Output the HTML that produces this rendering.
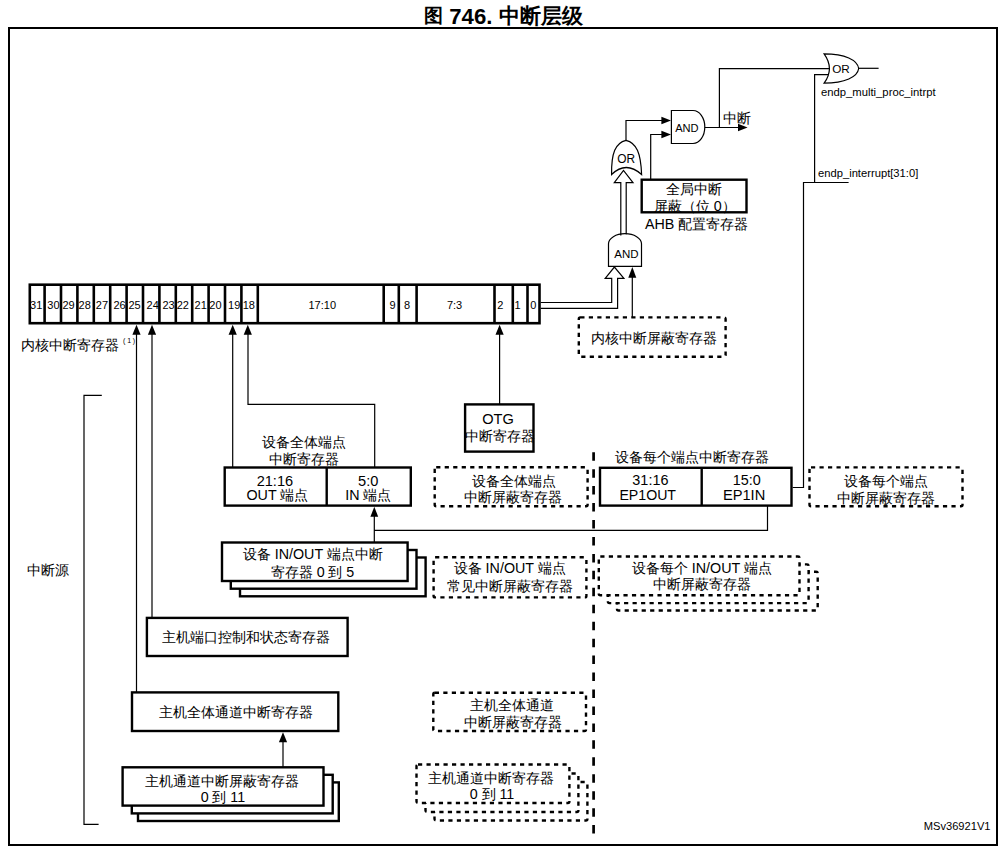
<!DOCTYPE html>
<html><head><meta charset="utf-8"><title>中断层级</title>
<style>
html,body{margin:0;padding:0;background:#fff;}
body{width:1008px;height:850px;overflow:hidden;font-family:"Liberation Sans", sans-serif;}
svg{display:block;}
</style></head>
<body>
<svg width="1008" height="850" viewBox="0 0 1008 850">
<rect x="0" y="0" width="1008" height="850" fill="#fff"/>
<rect x="9.00" y="28.00" width="988.00" height="817.00" fill="none" stroke="#000" stroke-width="2" />
<text id="t0" x="433.25" y="22.30" font-size="19.34" text-anchor="middle" font-weight="bold" font-family='"Liberation Sans", sans-serif' >图</text>
<text id="t1" x="470.80" y="24.20" font-size="22.18" text-anchor="middle" font-weight="bold" font-family='"Liberation Sans", sans-serif' >746.</text>
<text id="t2" x="541.00" y="23.00" font-size="20.96" text-anchor="middle" font-weight="bold" font-family='"Liberation Sans", sans-serif' >中断层级</text>
<rect x="29.80" y="284.70" width="509.70" height="38.50" fill="#fff" stroke="#000" stroke-width="2.6" />
<line x1="44.6" y1="284.7" x2="44.6" y2="323.2" stroke="#000" stroke-width="2.6"/>
<line x1="61.0" y1="284.7" x2="61.0" y2="323.2" stroke="#000" stroke-width="2.6"/>
<line x1="77.4" y1="284.7" x2="77.4" y2="323.2" stroke="#000" stroke-width="2.6"/>
<line x1="93.8" y1="284.7" x2="93.8" y2="323.2" stroke="#000" stroke-width="2.6"/>
<line x1="110.2" y1="284.7" x2="110.2" y2="323.2" stroke="#000" stroke-width="2.6"/>
<line x1="126.6" y1="284.7" x2="126.6" y2="323.2" stroke="#000" stroke-width="2.6"/>
<line x1="143.0" y1="284.7" x2="143.0" y2="323.2" stroke="#000" stroke-width="2.6"/>
<line x1="159.4" y1="284.7" x2="159.4" y2="323.2" stroke="#000" stroke-width="2.6"/>
<line x1="175.8" y1="284.7" x2="175.8" y2="323.2" stroke="#000" stroke-width="2.6"/>
<line x1="192.2" y1="284.7" x2="192.2" y2="323.2" stroke="#000" stroke-width="2.6"/>
<line x1="208.6" y1="284.7" x2="208.6" y2="323.2" stroke="#000" stroke-width="2.6"/>
<line x1="225.0" y1="284.7" x2="225.0" y2="323.2" stroke="#000" stroke-width="2.6"/>
<line x1="241.4" y1="284.7" x2="241.4" y2="323.2" stroke="#000" stroke-width="2.6"/>
<line x1="257.8" y1="284.7" x2="257.8" y2="323.2" stroke="#000" stroke-width="2.6"/>
<line x1="383.7" y1="284.7" x2="383.7" y2="323.2" stroke="#000" stroke-width="2.6"/>
<line x1="398.8" y1="284.7" x2="398.8" y2="323.2" stroke="#000" stroke-width="2.6"/>
<line x1="416.6" y1="284.7" x2="416.6" y2="323.2" stroke="#000" stroke-width="2.6"/>
<line x1="494.5" y1="284.7" x2="494.5" y2="323.2" stroke="#000" stroke-width="2.6"/>
<line x1="512.8" y1="284.7" x2="512.8" y2="323.2" stroke="#000" stroke-width="2.6"/>
<line x1="527.5" y1="284.7" x2="527.5" y2="323.2" stroke="#000" stroke-width="2.6"/>
<text id="t3" x="36.15" y="308.50" font-size="11.00" text-anchor="middle" font-weight="normal" font-family='"Liberation Sans", sans-serif' >31</text>
<text id="t4" x="53.45" y="308.50" font-size="11.00" text-anchor="middle" font-weight="normal" font-family='"Liberation Sans", sans-serif' >30</text>
<text id="t5" x="68.60" y="308.50" font-size="11.00" text-anchor="middle" font-weight="normal" font-family='"Liberation Sans", sans-serif' >29</text>
<text id="t6" x="84.65" y="308.50" font-size="11.00" text-anchor="middle" font-weight="normal" font-family='"Liberation Sans", sans-serif' >28</text>
<text id="t7" x="101.90" y="308.50" font-size="11.00" text-anchor="middle" font-weight="normal" font-family='"Liberation Sans", sans-serif' >27</text>
<text id="t8" x="119.60" y="308.50" font-size="11.00" text-anchor="middle" font-weight="normal" font-family='"Liberation Sans", sans-serif' >26</text>
<text id="t9" x="134.55" y="308.50" font-size="11.00" text-anchor="middle" font-weight="normal" font-family='"Liberation Sans", sans-serif' >25</text>
<text id="t10" x="152.70" y="308.50" font-size="11.00" text-anchor="middle" font-weight="normal" font-family='"Liberation Sans", sans-serif' >24</text>
<text id="t11" x="168.55" y="308.50" font-size="11.00" text-anchor="middle" font-weight="normal" font-family='"Liberation Sans", sans-serif' >23</text>
<text id="t12" x="182.88" y="308.50" font-size="11.00" text-anchor="middle" font-weight="normal" font-family='"Liberation Sans", sans-serif' >22</text>
<text id="t13" x="200.65" y="308.50" font-size="11.00" text-anchor="middle" font-weight="normal" font-family='"Liberation Sans", sans-serif' >21</text>
<text id="t14" x="215.45" y="308.50" font-size="11.00" text-anchor="middle" font-weight="normal" font-family='"Liberation Sans", sans-serif' >20</text>
<text id="t15" x="234.15" y="308.50" font-size="11.00" text-anchor="middle" font-weight="normal" font-family='"Liberation Sans", sans-serif' >19</text>
<text id="t16" x="248.80" y="308.50" font-size="11.00" text-anchor="middle" font-weight="normal" font-family='"Liberation Sans", sans-serif' >18</text>
<text id="t17" x="322.25" y="308.50" font-size="11.00" text-anchor="middle" font-weight="normal" font-family='"Liberation Sans", sans-serif' >17:10</text>
<text id="t18" x="392.45" y="308.50" font-size="11.00" text-anchor="middle" font-weight="normal" font-family='"Liberation Sans", sans-serif' >9</text>
<text id="t19" x="407.05" y="308.50" font-size="11.00" text-anchor="middle" font-weight="normal" font-family='"Liberation Sans", sans-serif' >8</text>
<text id="t20" x="454.60" y="308.50" font-size="11.00" text-anchor="middle" font-weight="normal" font-family='"Liberation Sans", sans-serif' >7:3</text>
<text id="t21" x="500.25" y="308.50" font-size="11.00" text-anchor="middle" font-weight="normal" font-family='"Liberation Sans", sans-serif' >2</text>
<text id="t22" x="517.60" y="308.50" font-size="11.00" text-anchor="middle" font-weight="normal" font-family='"Liberation Sans", sans-serif' >1</text>
<text id="t23" x="533.25" y="308.50" font-size="11.00" text-anchor="middle" font-weight="normal" font-family='"Liberation Sans", sans-serif' >0</text>
<text id="t24" x="70.10" y="350.40" font-size="13.70" text-anchor="middle" font-weight="normal" font-family='"Liberation Sans", sans-serif' >内核中断寄存器</text>
<text id="t25" x="123.00" y="343.45" font-size="7.00" text-anchor="start" font-weight="normal" font-family='"Liberation Sans", sans-serif' letter-spacing="1.8">(1)</text>
<path d="M101.8 395.3 H84 V824.3 H98.6" fill="none" stroke="#000" stroke-width="1.2" />
<text id="t26" x="47.85" y="575.20" font-size="13.70" text-anchor="middle" font-weight="normal" font-family='"Liberation Sans", sans-serif' >中断源</text>
<line x1="136.5" y1="329.7" x2="136.5" y2="692.4" stroke="#000" stroke-width="1.2"/>
<path d="M136.50 324.70 L132.40 334.70 L140.60 334.70 Z" fill="#000"/>
<line x1="152" y1="329.7" x2="152" y2="618" stroke="#000" stroke-width="1.2"/>
<path d="M152.00 324.70 L147.90 334.70 L156.10 334.70 Z" fill="#000"/>
<line x1="232.7" y1="329.7" x2="232.7" y2="467.5" stroke="#000" stroke-width="1.2"/>
<path d="M232.70 324.70 L228.60 334.70 L236.80 334.70 Z" fill="#000"/>
<path d="M248 329.7 V404.4 H374.7 V467.5" fill="none" stroke="#000" stroke-width="1.2" />
<path d="M247.80 324.70 L243.70 334.70 L251.90 334.70 Z" fill="#000"/>
<line x1="499.6" y1="329.7" x2="499.6" y2="404.4" stroke="#000" stroke-width="1.2"/>
<path d="M499.60 324.70 L495.50 334.70 L503.70 334.70 Z" fill="#000"/>
<rect x="146.90" y="617.90" width="200.70" height="38.10" fill="#fff" stroke="#000" stroke-width="2.4" />
<text id="t27" x="245.80" y="642.00" font-size="13.70" text-anchor="middle" font-weight="normal" font-family='"Liberation Sans", sans-serif' >主机端口控制和状态寄存器</text>
<rect x="132.00" y="692.40" width="206.30" height="38.60" fill="#fff" stroke="#000" stroke-width="2.4" />
<text id="t28" x="235.55" y="717.00" font-size="13.70" text-anchor="middle" font-weight="normal" font-family='"Liberation Sans", sans-serif' >主机全体通道中断寄存器</text>
<line x1="283" y1="740" x2="283" y2="767.3" stroke="#000" stroke-width="1.2"/>
<path d="M283.00 732.20 L278.90 742.20 L287.10 742.20 Z" fill="#000"/>
<rect x="138.00" y="782.40" width="200.80" height="38.60" fill="#fff" stroke="#000" stroke-width="2.4" />
<rect x="131.80" y="774.80" width="200.90" height="38.60" fill="#fff" stroke="#000" stroke-width="2.4" />
<rect x="122.60" y="767.30" width="200.90" height="38.30" fill="#fff" stroke="#000" stroke-width="2.4" />
<text id="t29" x="222.20" y="786.10" font-size="13.70" text-anchor="middle" font-weight="normal" font-family='"Liberation Sans", sans-serif' >主机通道中断屏蔽寄存器</text>
<text id="t30" x="222.95" y="801.90" font-size="13.70" text-anchor="middle" font-weight="normal" font-family='"Liberation Sans", sans-serif' ><tspan font-size="14.30">0</tspan> 到 <tspan font-size="14.30">11</tspan></text>
<text id="t31" x="303.50" y="446.90" font-size="13.70" text-anchor="middle" font-weight="normal" font-family='"Liberation Sans", sans-serif' >设备全体端点</text>
<text id="t32" x="303.65" y="463.60" font-size="13.70" text-anchor="middle" font-weight="normal" font-family='"Liberation Sans", sans-serif' >中断寄存器</text>
<rect x="224.70" y="467.50" width="186.10" height="38.10" fill="#fff" stroke="#000" stroke-width="2.4" />
<line x1="326.7" y1="467.5" x2="326.7" y2="505.6" stroke="#000" stroke-width="2.4"/>
<text id="t33" x="274.90" y="485.60" font-size="14.58" text-anchor="middle" font-weight="normal" font-family='"Liberation Sans", sans-serif' >21:16</text>
<text id="t34" x="277.45" y="499.60" font-size="13.70" text-anchor="middle" font-weight="normal" font-family='"Liberation Sans", sans-serif' ><tspan font-size="14.30">OUT</tspan> 端点</text>
<text id="t35" x="368.20" y="485.60" font-size="14.62" text-anchor="middle" font-weight="normal" font-family='"Liberation Sans", sans-serif' >5:0</text>
<text id="t36" x="368.25" y="499.60" font-size="13.70" text-anchor="middle" font-weight="normal" font-family='"Liberation Sans", sans-serif' ><tspan font-size="14.30">IN</tspan> 端点</text>
<path d="M374.3 542.5 V516 M374.3 530.3 H767.5 V505.6" fill="none" stroke="#000" stroke-width="1.2" />
<path d="M374.30 506.80 L370.40 516.80 L378.20 516.80 Z" fill="#000"/>
<rect x="240.00" y="557.50" width="185.60" height="38.80" fill="#fff" stroke="#000" stroke-width="2.4" />
<rect x="230.80" y="550.00" width="185.70" height="38.70" fill="#fff" stroke="#000" stroke-width="2.4" />
<rect x="222.00" y="542.50" width="185.60" height="38.50" fill="#fff" stroke="#000" stroke-width="2.4" />
<text id="t37" x="312.90" y="559.10" font-size="13.70" text-anchor="middle" font-weight="normal" font-family='"Liberation Sans", sans-serif' >设备 <tspan font-size="14.30">IN/OUT</tspan> 端点中断</text>
<text id="t38" x="312.60" y="576.50" font-size="13.70" text-anchor="middle" font-weight="normal" font-family='"Liberation Sans", sans-serif' >寄存器 <tspan font-size="14.30">0</tspan> 到 <tspan font-size="14.30">5</tspan></text>
<rect x="465.10" y="404.40" width="68.40" height="47.20" fill="#fff" stroke="#000" stroke-width="2.4" />
<text id="t39" x="498.00" y="424.30" font-size="14.60" text-anchor="middle" font-weight="normal" font-family='"Liberation Sans", sans-serif' >OTG</text>
<text id="t40" x="499.85" y="441.20" font-size="13.70" text-anchor="middle" font-weight="normal" font-family='"Liberation Sans", sans-serif' >中断寄存器</text>
<rect x="434.70" y="467.30" width="152.90" height="39.00" fill="#fff" stroke="#000" stroke-width="2.4" stroke-dasharray="4.2 4.3" rx="1.5"/>
<text id="t41" x="513.70" y="485.60" font-size="13.70" text-anchor="middle" font-weight="normal" font-family='"Liberation Sans", sans-serif' >设备全体端点</text>
<text id="t42" x="512.90" y="502.20" font-size="13.70" text-anchor="middle" font-weight="normal" font-family='"Liberation Sans", sans-serif' >中断屏蔽寄存器</text>
<rect x="433.60" y="557.30" width="152.80" height="40.10" fill="#fff" stroke="#000" stroke-width="2.4" stroke-dasharray="4.2 4.3" rx="1.5"/>
<text id="t43" x="509.85" y="572.60" font-size="13.70" text-anchor="middle" font-weight="normal" font-family='"Liberation Sans", sans-serif' >设备 <tspan font-size="14.30">IN/OUT</tspan> 端点</text>
<text id="t44" x="509.80" y="590.50" font-size="13.70" text-anchor="middle" font-weight="normal" font-family='"Liberation Sans", sans-serif' >常见中断屏蔽寄存器</text>
<rect x="433.30" y="692.80" width="152.70" height="38.20" fill="#fff" stroke="#000" stroke-width="2.4" stroke-dasharray="4.2 4.3" rx="1.5"/>
<text id="t45" x="512.45" y="709.60" font-size="13.70" text-anchor="middle" font-weight="normal" font-family='"Liberation Sans", sans-serif' >主机全体通道</text>
<text id="t46" x="512.80" y="726.50" font-size="13.70" text-anchor="middle" font-weight="normal" font-family='"Liberation Sans", sans-serif' >中断屏蔽寄存器</text>
<rect x="434.50" y="782.00" width="152.90" height="38.50" fill="#fff" stroke="#000" stroke-width="2.4" stroke-dasharray="4.2 4.3" rx="1.5"/>
<rect x="425.50" y="773.50" width="152.90" height="38.50" fill="#fff" stroke="#000" stroke-width="2.4" stroke-dasharray="4.2 4.3" rx="1.5"/>
<rect x="416.50" y="764.50" width="152.90" height="38.50" fill="#fff" stroke="#000" stroke-width="2.4" stroke-dasharray="4.2 4.3" rx="1.5"/>
<text id="t47" x="490.80" y="783.10" font-size="13.70" text-anchor="middle" font-weight="normal" font-family='"Liberation Sans", sans-serif' >主机通道中断寄存器</text>
<text id="t48" x="492.05" y="798.90" font-size="13.70" text-anchor="middle" font-weight="normal" font-family='"Liberation Sans", sans-serif' ><tspan font-size="14.30">0</tspan> 到 <tspan font-size="14.30">11</tspan></text>
<rect x="617.00" y="571.80" width="200.70" height="38.70" fill="#fff" stroke="#000" stroke-width="2.4" stroke-dasharray="4.2 4.3" rx="1.5"/>
<rect x="607.90" y="564.40" width="200.70" height="38.70" fill="#fff" stroke="#000" stroke-width="2.4" stroke-dasharray="4.2 4.3" rx="1.5"/>
<rect x="598.80" y="556.50" width="200.70" height="38.70" fill="#fff" stroke="#000" stroke-width="2.4" stroke-dasharray="4.2 4.3" rx="1.5"/>
<text id="t49" x="702.00" y="572.70" font-size="13.70" text-anchor="middle" font-weight="normal" font-family='"Liberation Sans", sans-serif' >设备每个 <tspan font-size="14.30">IN/OUT</tspan> 端点</text>
<text id="t50" x="701.85" y="589.10" font-size="13.70" text-anchor="middle" font-weight="normal" font-family='"Liberation Sans", sans-serif' >中断屏蔽寄存器</text>
<rect x="809.50" y="467.40" width="153.00" height="38.90" fill="#fff" stroke="#000" stroke-width="2.4" stroke-dasharray="4.2 4.3" rx="1.5"/>
<text id="t51" x="885.50" y="485.60" font-size="13.70" text-anchor="middle" font-weight="normal" font-family='"Liberation Sans", sans-serif' >设备每个端点</text>
<text id="t52" x="886.45" y="503.10" font-size="13.70" text-anchor="middle" font-weight="normal" font-family='"Liberation Sans", sans-serif' >中断屏蔽寄存器</text>
<rect x="578.80" y="317.40" width="146.80" height="39.30" fill="#fff" stroke="#000" stroke-width="2.4" stroke-dasharray="4.2 4.3" rx="1.5"/>
<text id="t53" x="653.60" y="343.00" font-size="13.70" text-anchor="middle" font-weight="normal" font-family='"Liberation Sans", sans-serif' >内核中断屏蔽寄存器</text>
<line x1="593.6" y1="452.2" x2="593.6" y2="833.5" stroke="#000" stroke-width="2.7" stroke-dasharray="8.5 8.45"/>
<text id="t54" x="691.75" y="461.60" font-size="13.70" text-anchor="middle" font-weight="normal" font-family='"Liberation Sans", sans-serif' >设备每个端点中断寄存器</text>
<rect x="600.00" y="467.80" width="191.50" height="37.80" fill="#fff" stroke="#000" stroke-width="2.4" />
<line x1="701.7" y1="467.8" x2="701.7" y2="505.6" stroke="#000" stroke-width="2.4"/>
<text id="t55" x="650.40" y="485.20" font-size="14.41" text-anchor="middle" font-weight="normal" font-family='"Liberation Sans", sans-serif' >31:16</text>
<text id="t56" x="647.70" y="500.10" font-size="14.16" text-anchor="middle" font-weight="normal" font-family='"Liberation Sans", sans-serif' >EP1OUT</text>
<text id="t57" x="746.85" y="485.20" font-size="14.38" text-anchor="middle" font-weight="normal" font-family='"Liberation Sans", sans-serif' >15:0</text>
<text id="t58" x="744.10" y="500.10" font-size="14.65" text-anchor="middle" font-weight="normal" font-family='"Liberation Sans", sans-serif' >EP1IN</text>
<path d="M792.7 487.5 H803.5 V182.5 H848.6 M814.6 182.5 V74.6 H829" fill="none" stroke="#000" stroke-width="1.2" />
<text id="t59" x="818.00" y="177.00" font-size="11.21" text-anchor="start" font-weight="normal" font-family='"Liberation Sans", sans-serif' >endp_interrupt[31:0]</text>
<path d="M608.5 266.4 V243.8 A16.5 10.1 0 0 1 641.5 243.8 V266.4 Z" fill="#fff" stroke="#000" stroke-width="1.2" />
<text id="t60" x="626.50" y="258.30" font-size="11.51" text-anchor="middle" font-weight="normal" font-family='"Liberation Sans", sans-serif' >AND</text>
<path d="M540.7 302.5 H611.7 V278.3 H605.2 L614.4 267 L623.9 278.3 H617.6 V308.4 H540.7" fill="none" stroke="#000" stroke-width="1.2" />
<line x1="632.3" y1="277" x2="632.3" y2="317.4" stroke="#000" stroke-width="1.2"/>
<path d="M632.30 267.00 L628.30 277.70 L636.30 277.70 Z" fill="#000"/>
<path d="M620.8 235.6 V182.6 H614.3 L623.5 170.4 L633 182.6 H626.2 V234.2" fill="none" stroke="#000" stroke-width="1.2" />
<path d="M611.6 174.5 C611.2 153 615.5 142.8 626 140.3 C636.5 142.8 640.8 153 641.6 174.5 Q626 160.5 611.6 174.5 Z" fill="#fff" stroke="#000" stroke-width="1.2" />
<text id="t61" x="626.10" y="163.10" font-size="11.90" text-anchor="middle" font-weight="normal" font-family='"Liberation Sans", sans-serif' >OR</text>
<path d="M626 140.3 V120.5 H662" fill="none" stroke="#000" stroke-width="1.2" />
<path d="M671.00 120.50 L661.40 116.75 L661.40 124.25 Z" fill="#000"/>
<path d="M650.7 179.8 V134.5 H662" fill="none" stroke="#000" stroke-width="1.2" />
<path d="M671.00 134.50 L661.40 130.75 L661.40 138.25 Z" fill="#000"/>
<rect x="641.70" y="179.70" width="104.80" height="32.60" fill="#fff" stroke="#000" stroke-width="2.4" />
<text id="t62" x="694.30" y="193.90" font-size="13.70" text-anchor="middle" font-weight="normal" font-family='"Liberation Sans", sans-serif' >全局中断</text>
<text id="t63" x="694.75" y="210.70" font-size="13.70" text-anchor="middle" font-weight="normal" font-family='"Liberation Sans", sans-serif' >屏蔽（位 <tspan font-size="14.30">0</tspan>）</text>
<text id="t64" x="696.55" y="229.20" font-size="13.70" text-anchor="middle" font-weight="normal" font-family='"Liberation Sans", sans-serif' ><tspan font-size="14.30">AHB</tspan> 配置寄存器</text>
<path d="M671.4 110.5 H693 A11.8 16.5 0 0 1 693 143.5 H671.4 Z" fill="#fff" stroke="#000" stroke-width="1.2" />
<text id="t65" x="686.90" y="131.60" font-size="11.10" text-anchor="middle" font-weight="normal" font-family='"Liberation Sans", sans-serif' >AND</text>
<path d="M704.8 127.5 H739 M719.4 127.5 V68.6 H830" fill="none" stroke="#000" stroke-width="1.2" />
<path d="M747.60 127.50 L738.00 123.70 L738.00 131.30 Z" fill="#000"/>
<text id="t66" x="736.70" y="123.00" font-size="13.70" text-anchor="middle" font-weight="normal" font-family='"Liberation Sans", sans-serif' >中断</text>
<path d="M824.1 53.8 Q834.7 68.5 824.1 83.2 C845 83.2 857.5 77 858.7 68.5 C857.5 60 845 53.8 824.1 53.8 Z" fill="#fff" stroke="#000" stroke-width="1.2" />
<text id="t67" x="841.00" y="72.50" font-size="11.72" text-anchor="middle" font-weight="normal" font-family='"Liberation Sans", sans-serif' >OR</text>
<line x1="858.7" y1="68.3" x2="878.6" y2="68.3" stroke="#000" stroke-width="1.2"/>
<text id="t68" x="820.90" y="96.00" font-size="11.29" text-anchor="start" font-weight="normal" font-family='"Liberation Sans", sans-serif' >endp_multi_proc_intrpt</text>
<text id="t69" x="990.50" y="830.40" font-size="11.14" text-anchor="end" font-weight="normal" font-family='"Liberation Sans", sans-serif' >MSv36921V1</text>
</svg>
</body></html>
